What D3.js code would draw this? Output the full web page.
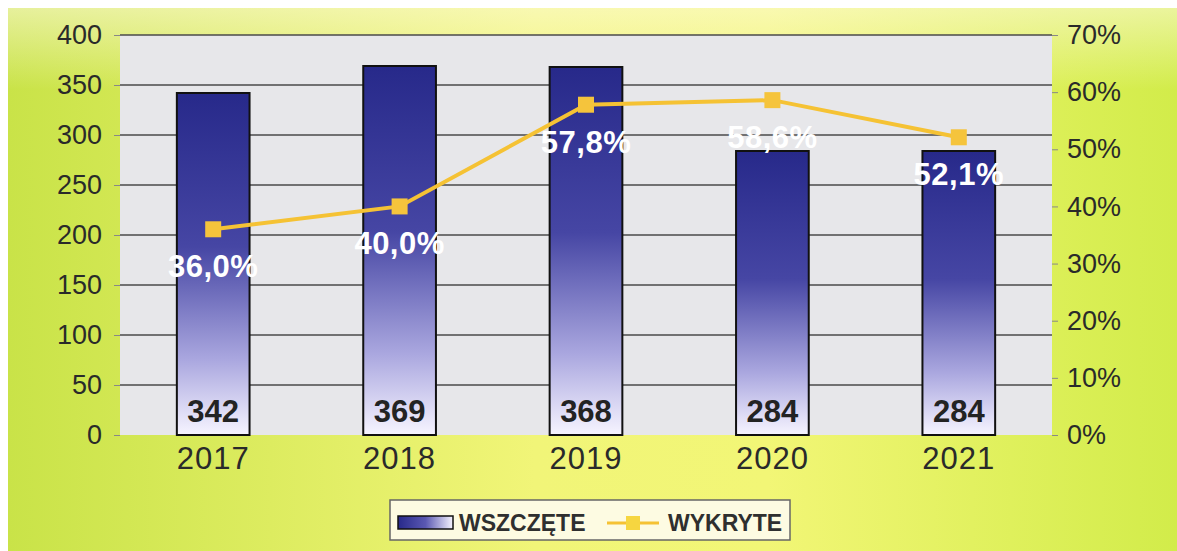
<!DOCTYPE html>
<html>
<head>
<meta charset="utf-8">
<script src="https://cdn.jsdelivr.net/npm/d3@7"></script>
<style>
  body { margin: 0; background: #fff; }
  svg { display: block; font-family: "Liberation Sans", Arial, sans-serif; }
</style>
</head>
<body>
<div id="chart"></div>
<script>
// data
const years = ["2017", "2018", "2019", "2020", "2021"];
const wszczete = [342, 369, 368, 284, 284];
const wykryte = [36.0, 40.0, 57.8, 58.6, 52.1];
const leftTicks = [0, 50, 100, 150, 200, 250, 300, 350, 400];
const rightTicks = [0, 10, 20, 30, 40, 50, 60, 70];

const width = 1177, height = 551;
const plot = { left: 120, right: 1052, top: 35, bottom: 435 };

const svg = d3.select("#chart").append("svg")
  .attr("width", width).attr("height", height);

const defs = svg.append("defs");

// background gradient
const bg = defs.append("linearGradient").attr("id", "bg").attr("x1", 0).attr("x2", 1);
bg.append("stop").attr("offset", "0%").attr("stop-color", "#c9e348");
bg.append("stop").attr("offset", "45%").attr("stop-color", "#f1f578");
bg.append("stop").attr("offset", "65%").attr("stop-color", "#f2f676");
bg.append("stop").attr("offset", "100%").attr("stop-color", "#d2ec4a");

const bgTop = defs.append("linearGradient").attr("id", "bgTop").attr("x1", 0).attr("x2", 0).attr("y1", 0).attr("y2", 1);
bgTop.append("stop").attr("offset", "0%").attr("stop-color", "#fffbe0").attr("stop-opacity", 0.55);
bgTop.append("stop").attr("offset", "15%").attr("stop-color", "#fffbe0").attr("stop-opacity", 0);

// bar gradient
const barGrad = defs.append("linearGradient").attr("id", "barGrad").attr("x1", 0).attr("x2", 0).attr("y1", 0).attr("y2", 1);
barGrad.append("stop").attr("offset", "0%").attr("stop-color", "#27298a");
barGrad.append("stop").attr("offset", "45%").attr("stop-color", "#4646a4");
barGrad.append("stop").attr("offset", "78%").attr("stop-color", "#aaa7df");
barGrad.append("stop").attr("offset", "100%").attr("stop-color", "#f6f4ff");

const legGrad = defs.append("linearGradient").attr("id", "legGrad").attr("x1", 0).attr("x2", 1);
legGrad.append("stop").attr("offset", "0%").attr("stop-color", "#27298a");
legGrad.append("stop").attr("offset", "50%").attr("stop-color", "#5a58b2");
legGrad.append("stop").attr("offset", "100%").attr("stop-color", "#f6f4ff");

svg.append("rect").attr("x", 8).attr("y", 8).attr("width", width - 8).attr("height", height - 8)
  .attr("fill", "url(#bg)");
svg.append("rect").attr("x", 8).attr("y", 8).attr("width", width - 8).attr("height", height - 8)
  .attr("fill", "url(#bgTop)");

// scales
const x = d3.scaleBand().domain(years).range([plot.left, plot.right]).paddingInner(0.61).paddingOuter(0.305);
const yL = d3.scaleLinear().domain([0, 400]).range([plot.bottom, plot.top]);
const yR = d3.scaleLinear().domain([0, 70]).range([plot.bottom, plot.top]);

// plot area
svg.append("rect")
  .attr("x", plot.left).attr("y", plot.top)
  .attr("width", plot.right - plot.left).attr("height", plot.bottom - plot.top)
  .attr("fill", "#e7e7ea");

// grid lines
svg.append("g").selectAll("line")
  .data(leftTicks.filter(d => d > 0))
  .join("line")
  .attr("x1", plot.left).attr("x2", plot.right)
  .attr("y1", d => yL(d)).attr("y2", d => yL(d))
  .attr("stroke", "#4a4a4a").attr("stroke-width", 1.5);

// left axis
const axL = svg.append("g").attr("transform", `translate(${plot.left},0)`)
  .call(d3.axisLeft(yL).tickValues(leftTicks).tickSize(6).tickPadding(12));
axL.select(".domain").remove();
axL.selectAll(".tick line").attr("stroke", "#888");
axL.selectAll(".tick text").attr("font-size", 27).attr("fill", "#2a2a2a")
  .attr("font-family", "'Liberation Sans', Arial, sans-serif");

// right axis
const axR = svg.append("g").attr("transform", `translate(${plot.right},0)`)
  .call(d3.axisRight(yR).tickValues(rightTicks).tickFormat(d => d + "%").tickSize(6).tickPadding(9));
axR.select(".domain").remove();
axR.selectAll(".tick line").attr("stroke", "#888");
axR.selectAll(".tick text").attr("font-size", 27).attr("fill", "#2a2a2a")
  .attr("font-family", "'Liberation Sans', Arial, sans-serif");

// x axis labels
const axX = svg.append("g").attr("transform", `translate(0,${plot.bottom})`)
  .call(d3.axisBottom(x).tickSize(0).tickPadding(12));
axX.select(".domain").remove();
axX.selectAll(".tick text").attr("font-size", 31).attr("fill", "#2a2a2a")
  .attr("letter-spacing", 1)
  .attr("font-family", "'Liberation Sans', Arial, sans-serif");

// bars
svg.append("g").selectAll("rect")
  .data(years)
  .join("rect")
  .attr("x", d => x(d))
  .attr("y", (d, i) => yL(wszczete[i]))
  .attr("width", x.bandwidth())
  .attr("height", (d, i) => plot.bottom - yL(wszczete[i]))
  .attr("fill", "url(#barGrad)")
  .attr("stroke", "#111").attr("stroke-width", 2);

// bar values
svg.append("g").selectAll("text")
  .data(years)
  .join("text")
  .attr("x", d => x(d) + x.bandwidth() / 2)
  .attr("y", plot.bottom - 13)
  .attr("text-anchor", "middle")
  .attr("font-size", 31).attr("font-weight", "bold").attr("fill", "#232323")
  .text((d, i) => wszczete[i]);

// line
const cx = d => x(d) + x.bandwidth() / 2;
const line = d3.line().x(d => cx(d)).y((d, i) => yR(wykryte[i]));
svg.append("path")
  .datum(years)
  .attr("d", line)
  .attr("fill", "none")
  .attr("stroke", "#f5c234").attr("stroke-width", 4);

svg.append("g").selectAll("rect")
  .data(years)
  .join("rect")
  .attr("x", d => cx(d) - 8)
  .attr("y", (d, i) => yR(wykryte[i]) - 8)
  .attr("width", 16).attr("height", 16)
  .attr("fill", "#f5c43c");

// percent labels
svg.append("g").selectAll("text")
  .data(years)
  .join("text")
  .attr("x", d => cx(d))
  .attr("y", (d, i) => yR(wykryte[i]) + 48)
  .attr("text-anchor", "middle")
  .attr("font-size", 31).attr("font-weight", "bold").attr("fill", "#ffffff")
  .attr("letter-spacing", 0.5)
  .text((d, i) => wykryte[i].toFixed(1).replace(".", ",") + "%");

// legend
const lg = svg.append("g");
lg.append("rect").attr("x", 390).attr("y", 500).attr("width", 400).attr("height", 40)
  .attr("fill", "#fdfbe2").attr("stroke", "#666").attr("stroke-width", 1.5);
lg.append("rect").attr("x", 398).attr("y", 516).attr("width", 55).attr("height", 13)
  .attr("fill", "url(#legGrad)").attr("stroke", "#111").attr("stroke-width", 1.5);
lg.append("text").attr("x", 459).attr("y", 531)
  .attr("font-size", 23).attr("font-weight", "bold").attr("fill", "#2f2f2f")
  .text("WSZCZĘTE");
lg.append("line").attr("x1", 607).attr("x2", 659).attr("y1", 523).attr("y2", 523)
  .attr("stroke", "#f5c234").attr("stroke-width", 3);
lg.append("rect").attr("x", 626).attr("y", 516).attr("width", 14).attr("height", 14)
  .attr("fill", "#f6d640");
lg.append("text").attr("x", 668).attr("y", 531)
  .attr("font-size", 23).attr("font-weight", "bold").attr("fill", "#2f2f2f")
  .text("WYKRYTE");
</script>
</body>
</html>
